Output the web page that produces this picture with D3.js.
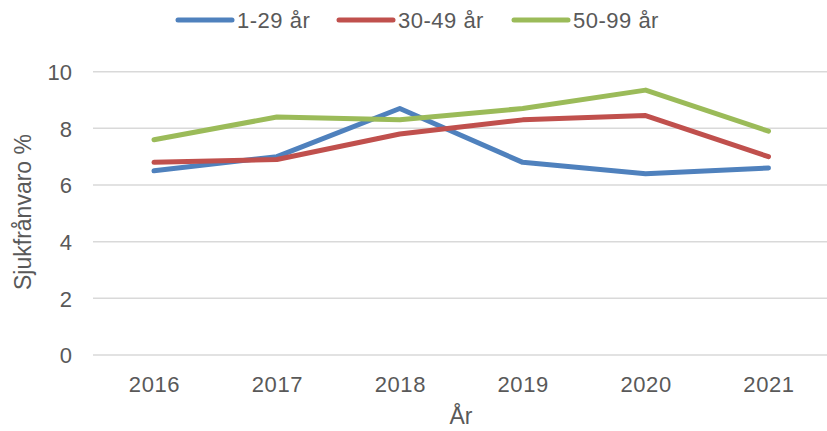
<!DOCTYPE html>
<html><head><meta charset="utf-8">
<script src="https://cdn.jsdelivr.net/npm/d3@7"></script>
<style>body{margin:0;background:#fff}svg{display:block}text{font-family:"Liberation Sans",Arial,sans-serif;fill:#595959}</style>
</head><body>
<script>
const years = ["2016","2017","2018","2019","2020","2021"];
const seriesNames = ["1-29 år","30-49 år","50-99 år"];
const values1_29 = [6.5,7.0,8.7,6.8,6.4,6.6];
const values30_49 = [6.8,6.9,7.8,8.3,8.45,7.0];
const values50_99 = [7.6,8.4,8.3,8.7,9.35,7.9];
const yTicks = [0,2,4,6,8,10];
const colors = ["#4F81BD","#C0504D","#9BBB59"];
const series = [values1_29, values30_49, values50_99];

const W=827,H=431;
const svg=d3.select("body").append("svg").attr("width",W).attr("height",H);
const x=d3.scalePoint().domain(years).range([154,768.5]);
const y=d3.scaleLinear().domain([0,10]).range([355,71.7]);

// gridlines
svg.append("g").selectAll("line").data(yTicks).join("line")
  .attr("x1",93).attr("x2",827).attr("y1",d=>y(d)).attr("y2",d=>y(d))
  .attr("stroke","#D9D9D9").attr("stroke-width",1.5);

// y axis
const ya=svg.append("g").attr("transform","translate(79,0)")
  .call(d3.axisLeft(y).tickValues(yTicks).tickSize(0).tickPadding(7));
ya.select(".domain").remove();
ya.selectAll("text").style("font-size","22px").attr("fill","#595959").attr("dy","0.36em")
  .style("font-family","Liberation Sans, Arial, sans-serif");

// x axis
const xa=svg.append("g").attr("transform","translate(0,369)")
  .call(d3.axisBottom(x).tickSize(0).tickPadding(7));
xa.select(".domain").remove();
xa.selectAll("text").style("font-size","22px").attr("fill","#595959").style("letter-spacing","0.6px")
  .style("font-family","Liberation Sans, Arial, sans-serif");

// lines
const line=d3.line().x((d,i)=>x(years[i])).y(d=>y(d));
series.forEach((s,k)=>{
  svg.append("path").datum(s).attr("d",line).attr("fill","none")
    .attr("stroke",colors[k]).attr("stroke-width",5).attr("stroke-linecap","round").attr("stroke-linejoin","round");
});

// axis titles
svg.append("text").attr("x",461).attr("y",424).attr("text-anchor","middle").style("font-size","23px").text("År");
svg.append("text").attr("transform","translate(31,212) rotate(-90)").attr("text-anchor","middle").style("font-size","23px").text("Sjukfrånvaro %");

// legend
const legX=[178,339,514];
const lg=svg.append("g");
seriesNames.forEach((n,k)=>{
  lg.append("line").attr("x1",legX[k]).attr("x2",legX[k]+54).attr("y1",20).attr("y2",20)
    .attr("stroke",colors[k]).attr("stroke-width",5).attr("stroke-linecap","round");
  lg.append("text").attr("x",legX[k]+59).attr("y",28).style("font-size","22px").style("letter-spacing","0.5px").text(n);
});
</script>
</body></html>
